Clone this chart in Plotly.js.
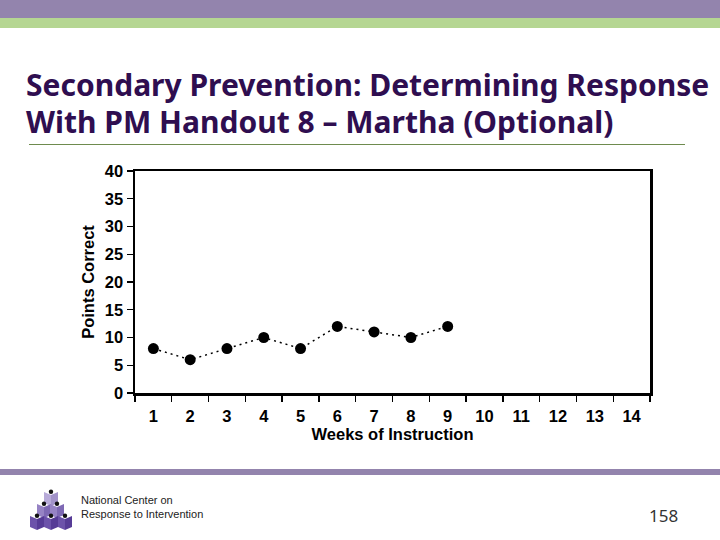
<!DOCTYPE html>
<html>
<head>
<meta charset="utf-8">
<script src="https://cdn.plot.ly/plotly-3.0.1.min.js"></script>
<style>html,body{margin:0;padding:0;background:#fff;}#chart{width:720px;height:540px;}</style>
</head>
<body>
<div id="chart"></div>
<script>
// ---- data ----
const weeks = [1, 2, 3, 4, 5, 6, 7, 8, 9];
const points = [8, 6, 8, 10, 8, 12, 11, 10, 12];
const weekTicks = [1, 2, 3, 4, 5, 6, 7, 8, 9, 10, 11, 12, 13, 14];
const weekLabels = ['1','2','3','4','5','6','7','8','9','10','11','12','13','14'];
const yTicks = [0, 5, 10, 15, 20, 25, 30, 35, 40];
const titleLines = ['Secondary Prevention: Determining Response', 'With PM Handout 8 \u2013 Martha (Optional)'];
const footerLines = ['National Center on', 'Response to Intervention'];
const pageNumber = '158';

// ---- layout helpers (pixel -> paper) ----
const L = 135, R = 650, T = 171, B = 393;
const px = x => (x - L) / (R - L);
const py = y => (B - y) / (B - T);

const boundaries = weekTicks.map(w => w - 0.5).concat([weekTicks[weekTicks.length - 1] + 0.5]);

const shapes = [
  {type:'rect', xref:'paper', yref:'paper', x0:px(0), x1:px(720), y0:py(0), y1:py(18), fillcolor:'#9384AD', line:{width:0}},
  {type:'rect', xref:'paper', yref:'paper', x0:px(0), x1:px(720), y0:py(18), y1:py(28), fillcolor:'#B5D692', line:{width:0}},
  {type:'line', xref:'paper', yref:'paper', x0:px(29), x1:px(685), y0:py(144.5), y1:py(144.5), line:{color:'#6E8B4E', width:1}},
  {type:'rect', xref:'paper', yref:'paper', x0:px(0), x1:px(720), y0:py(469), y1:py(475), fillcolor:'#9384AD', line:{width:0}}
];

// logo blocks (book-like cubes)
function block(cx, y0, cl, cr) {
  const P = (x, y) => px(x) + ',' + py(y);
  shapes.push({type:'path', xref:'paper', yref:'paper', fillcolor:cl, line:{width:0},
    path:'M' + P(cx-7, y0) + ' L' + P(cx, y0+3) + ' L' + P(cx, y0+14) + ' L' + P(cx-7, y0+11) + ' Z'});
  shapes.push({type:'path', xref:'paper', yref:'paper', fillcolor:cr, line:{width:0},
    path:'M' + P(cx, y0+3) + ' L' + P(cx+7, y0) + ' L' + P(cx+7, y0+11) + ' L' + P(cx, y0+14) + ' Z'});
  shapes.push({type:'circle', xref:'paper', yref:'paper', fillcolor:'#111', line:{width:0},
    x0:px(cx-2.2), x1:px(cx+2.2), y0:py(y0-2.5), y1:py(y0+1.9)});
}
block(51, 492, '#B8ABD9', '#A293C9');
block(44, 504, '#9683C4', '#7E69B4');
block(57, 504, '#9683C4', '#7E69B4');
block(37, 516, '#6C52AA', '#563B96');
block(51, 516, '#6C52AA', '#563B96');
block(65, 516, '#6C52AA', '#563B96');

const annotations = [
  {xref:'paper', yref:'paper', x:px(24), y:py(84), xanchor:'left', yanchor:'middle', showarrow:false,
   text:'<b>' + titleLines[0] + '</b>', font:{family:'Noto Sans', size:30, color:'#2F0E50'}},
  {xref:'paper', yref:'paper', x:px(24), y:py(121), xanchor:'left', yanchor:'middle', showarrow:false,
   text:'<b>' + titleLines[1] + '</b>', font:{family:'Noto Sans', size:30, color:'#2F0E50'}},
  {xref:'paper', yref:'paper', x:px(79), y:py(500), xanchor:'left', yanchor:'middle', showarrow:false,
   text:footerLines[0], font:{family:'Liberation Sans Narrow, Liberation Sans', size:11, color:'#222'}},
  {xref:'paper', yref:'paper', x:px(79), y:py(514), xanchor:'left', yanchor:'middle', showarrow:false,
   text:footerLines[1], font:{family:'Liberation Sans Narrow, Liberation Sans', size:11, color:'#222'}},
  {xref:'paper', yref:'paper', x:px(680), y:py(515), xanchor:'right', yanchor:'middle', showarrow:false,
   text:pageNumber, font:{family:'Noto Sans', size:17, color:'#333'}}
];

const trace = {
  x: weeks, y: points, type:'scatter', mode:'lines+markers',
  line:{color:'#000', width:1.5, dash:'2px,4px'},
  marker:{color:'#000', size:11},
  hoverinfo:'skip'
};

const layout = {
  width:720, height:540,
  margin:{l:L, r:720-R, t:T, b:540-B, pad:0},
  paper_bgcolor:'#fff', plot_bgcolor:'#fff',
  showlegend:false,
  font:{family:'Liberation Sans, Arial', color:'#000'},
  xaxis:{
    range:[0.5, 14.5], tickmode:'array', tickvals:weekTicks, ticktext:weekLabels,
    ticks:'outside', ticklen:7, tickcolor:'rgba(0,0,0,0)',
    tickfont:{family:'Liberation Sans, Arial', size:16.5, weight:'bold', color:'#000'},
    showgrid:false, zeroline:false,
    showline:true, linecolor:'#000', linewidth:2.5, mirror:true,
    minor:{tickmode:'array', tickvals:boundaries, ticks:'outside', ticklen:6, tickcolor:'#000', tickwidth:1.3, showgrid:false},
    title:{text:'Weeks of Instruction', font:{family:'Liberation Sans, Arial', size:16.5, weight:'bold', color:'#000'}, standoff:0}
  },
  yaxis:{
    range:[0, 40], tickmode:'array', tickvals:yTicks,
    ticks:'outside', ticklen:6, tickcolor:'#000', tickwidth:1.3,
    tickfont:{family:'Liberation Sans, Arial', size:16.5, weight:'bold', color:'#000'},
    showgrid:false, zeroline:false,
    showline:true, linecolor:'#000', linewidth:2.5, mirror:true,
    title:{text:'Points Correct', font:{family:'Liberation Sans, Arial', size:16.5, weight:'bold', color:'#000'}, standoff:6}
  },
  shapes: shapes,
  annotations: annotations
};

Plotly.newPlot('chart', [trace], layout, {displayModeBar:false, staticPlot:true});
</script>
</body>
</html>
